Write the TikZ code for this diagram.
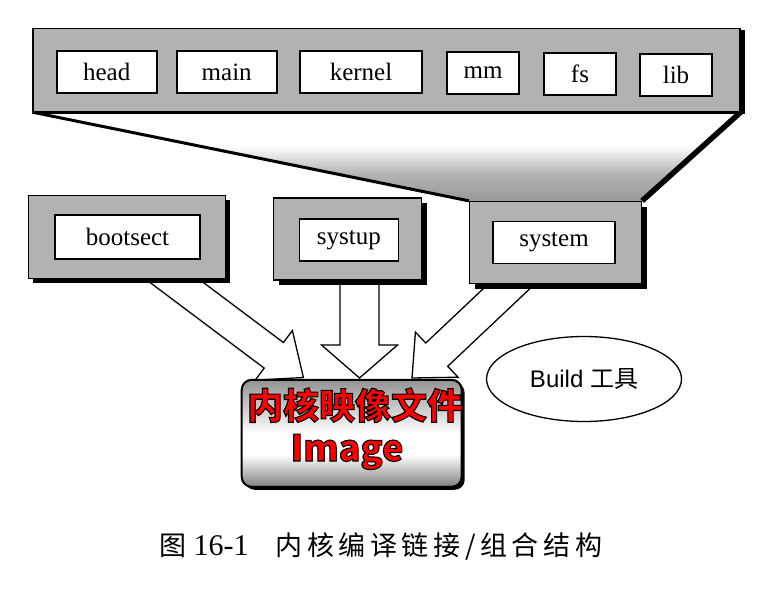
\documentclass[tikz,border=0pt]{standalone}
\usepackage{fontspec}
\setmainfont{Liberation Serif}
\newfontfamily\cjk{Noto Sans CJK SC}
\newfontfamily\cjkcap{Noto Sans CJK SC}[LetterSpace=17]
\newfontfamily\cjkred{Noto Sans CJK SC}[FakeBold=3]
\newfontfamily\lsans{Liberation Sans}
\usetikzlibrary{calc,shapes.geometric,shadows,backgrounds}

\pgfdeclareverticalshading{funnelshade}{100bp}{color(0bp)=(gray!80); color(25bp)=(gray!80); color(40bp)=(gray!60); color(56bp)=(white); color(100bp)=(white)}
\pgfdeclareverticalshading{imageshade}{100bp}{color(0bp)=(gray!100); color(25bp)=(gray!100); color(40bp)=(white); color(50bp)=(white); color(75bp)=(gray!85); color(100bp)=(gray!85)}

% mui ten rong: goc, dinh, nua than, nua dau, dai dau
\newcommand{\hollowarrow}[5]{%
  \draw[arrowline] ($(#1)!#3!-90:(#2)$) -- ($(#2)!#5!(#1)!#3!90:(#1)$)
    -- ($(#2)!#5!(#1)!#4!90:(#1)$) -- (#2)
    -- ($(#2)!#5!(#1)!#4!-90:(#1)$) -- ($(#2)!#5!(#1)!#3!-90:(#1)$)
    -- ($(#1)!#3!90:(#2)$) -- cycle;}
% chu do vien den
\newcommand{\redlabel}[1]{\special{pdf:code 0 0 0 RG}#1}

\tikzset{
  grayfill/.style={draw, line width=1.3pt, fill=gray!60},
  graybox/.style={grayfill, drop shadow={shadow xshift=5pt, shadow yshift=-5pt, opacity=1, fill=black}},
  modbox/.style={draw, line width=1.6pt, fill=white, minimum height=42pt, inner sep=0pt, font=\fontsize{25}{28}\selectfont},
  arrowline/.style={line width=1.3pt, draw, fill=white, line join=miter},
  redtext/.style={text=red, inner sep=0pt, font=\cjkred\bfseries\fontsize{36}{40}\selectfont}
}

\begin{document}
\begin{tikzpicture}[x=1pt, y=-1pt]
\useasboundingbox (0,0) rectangle (767,607);

% Khoi tren: cac module cua kernel
\node[grayfill, minimum width=707pt, minimum height=83pt,
  drop shadow={shadow xshift=5pt, shadow yshift=-2pt, opacity=1, fill=black}] (kernbar) at (386.5,70) {};
\node[modbox, minimum width=100pt] (head) at (106.7,72) {head};
\node[modbox, minimum width=100pt] (main) at (226.7,72) {main};
\node[modbox, minimum width=122pt] (kernel) at (361,72) {kernel};
\node[modbox, minimum width=72pt] (mm) at (483,73) {mm};
\node[modbox, minimum width=72pt] (fs) at (580,74) {fs};
\node[modbox, minimum width=72pt] (lib) at (676,75) {lib};

% Ba khoi duoi
\node[graybox, minimum width=197pt, minimum height=83pt] (bootbox) at (126.7,236.7) {};
\node[modbox, minimum width=145pt, minimum height=44pt] (bootsect) at (127.5,237) {bootsect};
\node[graybox, minimum width=148pt, minimum height=82pt] (setupbox) at (347.5,239) {};
\node[modbox, minimum width=99pt] (systup) at (348.8,239.7) {systup};
\node[graybox, minimum width=172pt, minimum height=82pt] (sysbox) at (555.5,242.5) {};
\node[modbox, minimum width=122pt] (system) at (554,242.5) {system};

% Khoi Image va cong cu Build
\node[draw, line width=2pt, rounded corners=10pt, shade, shading=imageshade,
  minimum width=220pt, minimum height=107pt,
  drop shadow={shadow xshift=3pt, shadow yshift=-3pt, opacity=1, fill=black}] (image) at (351.7,433.3) {};
\node[redtext, anchor=base] (imgcn) at (355,419) {\redlabel{内核映像文件}};
\node[redtext, anchor=base] (imgen) at (347,461) {\redlabel{Image}};
\node[ellipse, draw, line width=1.3pt, minimum width=195pt, minimum height=85pt,
  font=\fontsize{24}{28}\selectfont] (build) at (584,379) {\lsans Build \cjk 工具};

% Chu thich
\node[font=\fontsize{27}{30}\selectfont] (caption) at (381,546)
  {{\cjkcap 图} {\fontsize{30}{30}\selectfont 16-1}\quad{\cjkcap 内核编译链接/组合结构}};

% Diem dau va dinh cua cac mui ten
\coordinate (a1s) at (156,267);
\coordinate (a1t) at (303.4,377.5);
\coordinate (a2s) at (359.5,262);
\coordinate (a2t) at (359.5,378);
\coordinate (a3s) at (527,269.4);
\coordinate (a3t) at (412,378);

\begin{scope}[on background layer]
% Phan pheu noi khoi tren voi system
\shade[shading=funnelshade] (kernbar.south west) -- (kernbar.south east)
  -- (sysbox.north east) -- (sysbox.north west) -- cycle;
\draw[line width=3pt] (kernbar.south west) -- (sysbox.north west);
\draw[line width=5.5pt] (kernbar.south east) -- (sysbox.north east);

% Cac mui ten rong
\hollowarrow{a1s}{a1t}{16pt}{31pt}{37pt}
\hollowarrow{a2s}{a2t}{19.5pt}{38pt}{33pt}
\hollowarrow{a3s}{a3t}{16pt}{31pt}{34pt}
\end{scope}
\end{tikzpicture}
\end{document}
